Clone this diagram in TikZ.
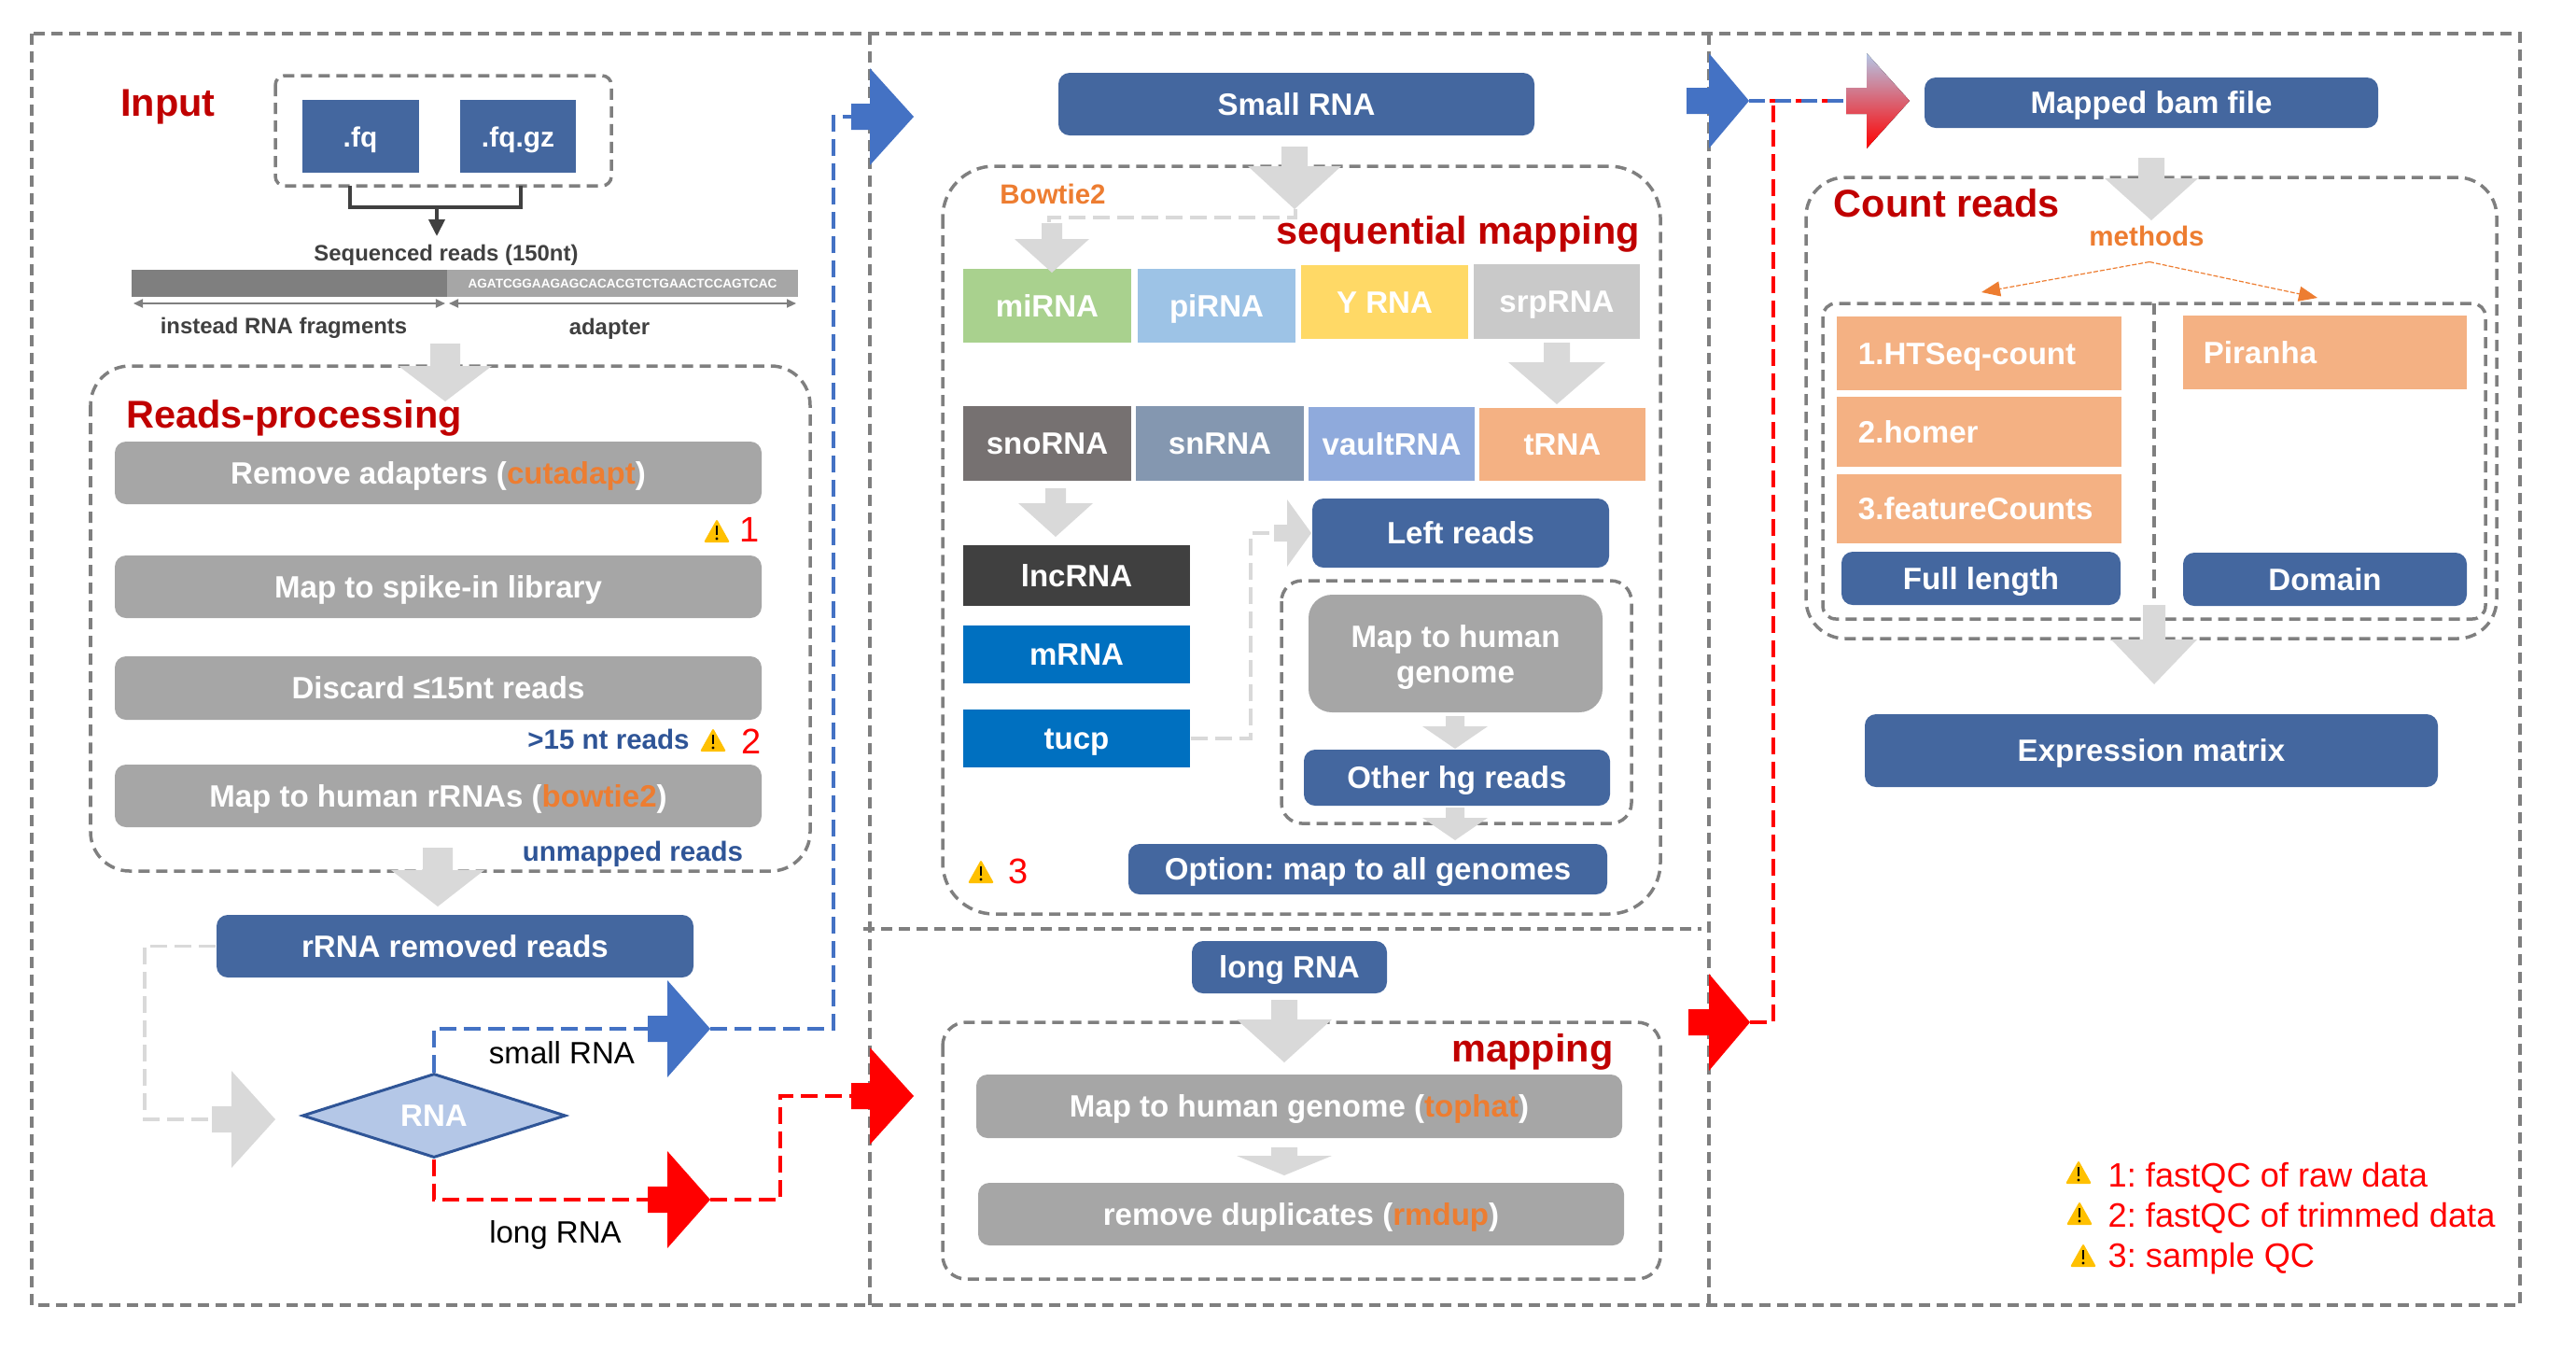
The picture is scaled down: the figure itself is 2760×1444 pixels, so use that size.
\documentclass[tikz,border=0pt]{standalone}
\usepackage{fontspec}
\setmainfont{Liberation Sans}
\usetikzlibrary{arrows.meta,shapes.geometric}

\definecolor{boxblue}{HTML}{44679F}
\definecolor{boxgray}{HTML}{A6A6A6}
\definecolor{fatgray}{HTML}{D9D9D9}
\definecolor{fatblue}{HTML}{4472C4}
\definecolor{linegray}{HTML}{7F7F7F}
\definecolor{headred}{HTML}{C00000}
\definecolor{toolorange}{HTML}{ED7D31}
\definecolor{notenavy}{HTML}{2F5597}
\definecolor{warnyellow}{HTML}{FFC000}
\definecolor{peach}{HTML}{F4B183}
\definecolor{rnafill}{HTML}{B4C7E7}
\definecolor{mirnagreen}{HTML}{A9D18E}
\definecolor{pirnablue}{HTML}{9DC3E6}
\definecolor{yrnayellow}{HTML}{FFD966}
\definecolor{srpgray}{HTML}{C9C9C9}
\definecolor{snogray}{HTML}{767171}
\definecolor{snslate}{HTML}{8497B0}
\definecolor{vaultblue}{HTML}{8FAADC}
\definecolor{tucpblue}{HTML}{0070C0}

\tikzset{
	framedash/.style={line width=0.035cm, color=linegray, dash pattern=on 0.12cm off 0.07cm},
	linkdash/.style={line width=0.035cm, dash pattern=on 0.18cm off 0.08cm},
	size/.style 2 args={minimum width=#1*0.01cm, minimum height=#2*0.01cm, inner sep=0pt},
	bodyfont/.style={font=\fontsize{9.4}{12}\selectfont\bfseries, text height=6.8pt, text depth=0pt},
	headfont/.style={font=\fontsize{11.8}{14}\selectfont\bfseries, color=headred, text height=8.5pt, text depth=0pt},
	notefont/.style={font=\fontsize{8.4}{10}\selectfont\bfseries, text height=6pt, text depth=0pt},
	smallfont/.style={font=\fontsize{6.8}{8}\selectfont\bfseries, color=black!75, text height=4.9pt, text depth=0pt},
	labelfont/.style={font=\fontsize{9.4}{11}\selectfont, text height=6.8pt, text depth=0pt},
	flatbox/.style={fill=#1, text=white, bodyfont},
	bluebox/.style={flatbox=boxblue, rounded corners=0.12cm},
	graybox/.style={flatbox=boxgray, rounded corners=0.12cm},
	warnnum/.style={font=\fontsize{10.8}{12}\selectfont, color=red},
	legend/.style={anchor=west, inner sep=0pt, font=\fontsize{10.3}{12}\selectfont, color=red, text height=7.4pt, text depth=0pt},
}

% x, y top, y neck, y tip, half stem, half head
\def\downblock[#1](#2,#3,#4,#5,#6,#7){\fill[#1] ({#2-#6},#3) -- ({#2+#6},#3) -- ({#2+#6},#4) -- ({#2+#7},#4) -- (#2,#5) -- ({#2-#7},#4) -- ({#2-#6},#4) -- cycle;}
% name, x start, x neck, x tip, y, half stem, half head
\def\rightblock[#1](#2)(#3,#4,#5,#6,#7,#8){
	\coordinate (#2) at (#3,#6);
	\coordinate (#2tip) at (#5,#6);
	\fill[#1] (#3,{#6-#7}) -- (#4,{#6-#7}) -- (#4,{#6-#8}) -- (#5,#6) -- (#4,{#6+#8}) -- (#4,{#6+#7}) -- (#3,{#6+#7}) -- cycle;}
\def\warnicon(#1,#2){
	\fill[warnyellow, rounded corners=0.02cm] ({#1-14},{#2+12}) -- (#1,{#2-13}) -- ({#1+14},{#2+12}) -- cycle;
	\draw[black, line width=0.02cm] (#1,{#2-6}) -- (#1,{#2+4});
	\fill[black] (#1,{#2+8}) circle (1.6);}

\begin{document}
\frenchspacing
\begin{tikzpicture}[x=0.01cm, y=-0.01cm]
			\useasboundingbox (0,0) rectangle (2760,1444);
			
			%%%%% FRAMES %%%%%
			\draw[framedash] (34,36) rectangle (2700,1398);
			\draw[framedash] (932,36) -- (932,1398);
			\draw[framedash] (1831,36) -- (1831,1398);
			\draw[framedash] (925,995) -- (1823,995);
			
			\draw[framedash, rounded corners=0.1cm] (295,81) rectangle (655,199);
			\draw[framedash, rounded corners=0.42cm] (97,392) rectangle (868,933);
			\draw[framedash, rounded corners=0.55cm] (1010,178) rectangle (1779,979);
			\draw[framedash, rounded corners=0.22cm] (1373,622) rectangle (1748,882);
			\draw[framedash, rounded corners=0.25cm] (1010,1095) rectangle (1779,1370);
			\draw[framedash, rounded corners=0.42cm] (1935,190) rectangle (2675,684);
			\draw[framedash, rounded corners=0.14cm] (1953,325) rectangle (2663,663);
			\draw[framedash] (2308,325) -- (2308,663);
			
			%%%%% INPUT %%%%%
			\node[headfont] (input) at (180,110) {Input};
			\node[flatbox=boxblue, size={125}{78}] (fq) at (386,146) {\fontsize{8.5}{10}\selectfont .fq};
			\node[flatbox=boxblue, size={124}{78}] (fqgz) at (555,146) {\fontsize{8.5}{10}\selectfont .fq.gz};
			
			\coordinate (joinmid) at (468,222);
			\coordinate (fqdrop) at (375,199);
			\coordinate (fqgzdrop) at (558,199);
			\draw[line width=0.04cm, color=black!75] (fqdrop) |- (joinmid) -| (fqgzdrop);
			\node[smallfont] (seqreads) at (478,271) {Sequenced reads (150nt)};
			\draw[-{Triangle[length=0.18cm, width=0.17cm]}, line width=0.04cm, color=black!75] (joinmid) -- (468,253);
			
			\node[fill=linegray, size={338}{29}] (readbar) at (310,303.5) {};
			\node[fill=boxgray, text=white, size={376}{29}, font=\fontsize{3.86}{5}\selectfont\bfseries] (adapterbar) at (667,303.5) {AGATCGGAAGAGCACACGTCTGAACTCCAGTCAC};
			\draw[{Triangle[length=0.1cm, width=0.09cm]}-{Triangle[length=0.1cm, width=0.09cm]}, line width=0.02cm, color=linegray] (143,325) -- (477,325);
			\draw[{Triangle[length=0.1cm, width=0.09cm]}-{Triangle[length=0.1cm, width=0.09cm]}, line width=0.02cm, color=linegray] (481,325) -- (853,325);
			\node[smallfont] (fragments) at (304,349) {instead RNA fragments};
			\node[smallfont] (adapter) at (653,350) {adapter};
			
			%%%%% READS-PROCESSING %%%%%
			\downblock[fatgray](477,368,392,430,16,50)
			\node[headfont] (readsproc) at (315,444) {Reads-processing};
			\node[graybox, size={693}{67}] (adapters) at (469.5,506.5) {Remove adapters ({\color{toolorange}cutadapt})};
			\node[graybox, size={693}{67}] (spikein) at (469.5,628.5) {Map to spike-in library};
			\node[graybox, size={693}{68}] (discard) at (469.5,737) {Discard ≤15nt reads};
			\node[graybox, size={693}{67}] (rrnas) at (469.5,852.5) {Map to human rRNAs ({\color{toolorange}bowtie2})};
			
			\warnicon(768,569)
			\node[warnnum] (warnone) at (803,567) {1};
			\node[notefont, color=notenavy] (longreads) at (652,792) {>15 nt reads};
			\warnicon(764,793)
			\node[warnnum] (warntwo) at (805,794) {2};
			\node[notefont, color=notenavy] (unmapped) at (678,912) {unmapped reads};
			
			\downblock[fatgray](469,908,932,971,16,50)
			\node[bluebox, size={511}{67}] (removed) at (487.5,1013.5) {rRNA removed reads};
			
			\rightblock[fatgray](grayin)(227,248,295,1199,14,52)
			\draw[linkdash, color=fatgray] (removed.west) -- (155,1013.5) |- (grayin);
			\node[diamond, draw=notenavy, line width=0.03cm, fill=rnafill, aspect=3.13, inner sep=0pt, minimum width=2.82cm, minimum height=0.9cm, text=white, bodyfont] (rna) at (465,1195) {RNA};
			
			\rightblock[fatblue](smallout)(694,715,761,1102,14,52)
			\rightblock[red](longout)(694,715,761,1285,14,52)
			\draw[linkdash, color=fatblue] (rna.north) |- (smallout);
			\draw[linkdash, color=red] (rna.south) |- (longout);
			\node[labelfont] (smalllabel) at (602,1128) {small RNA};
			\node[labelfont] (longlabel) at (595,1320) {long RNA};
			
			\rightblock[fatblue](smallin)(912,932,979,125,14,52)
			\rightblock[red](longin)(912,932,979,1174,14,52)
			\draw[linkdash, color=fatblue] (smallouttip) -| (893,125) -- (smallin);
			\draw[linkdash, color=red] (longouttip) -| (836,1174) -- (longin);
			
			%%%%% SMALL RNA %%%%%
			\node[bluebox, size={510}{67}] (smallrna) at (1389,111.5) {Small RNA};
			\downblock[fatgray](1387,157,178,224,14,50)
			\node[notefont, color=toolorange] (bowtie) at (1128,208) {Bowtie2};
			\node[headfont] (seqmap) at (1562,247) {sequential mapping};
			
			\node[flatbox=mirnagreen, size={180}{79}] (mirna) at (1122,327.5) {miRNA};
			\node[flatbox=pirnablue, size={169}{79}] (pirna) at (1303.5,327.5) {piRNA};
			\node[flatbox=yrnayellow, size={179}{79}] (yrna) at (1483.5,323.5) {Y RNA};
			\node[flatbox=srpgray, size={178}{80}] (srprna) at (1668,323) {srpRNA};
			
			\coordinate (bowtieturn) at (1388,233);
			\draw[linkdash, color=fatgray] (1388,224) -- (bowtieturn) -| (1124,239);
			\downblock[fatgray](1127,239,256,292,11,40)
			\downblock[fatgray](1668,367,388,433,14,52)
			
			\node[flatbox=snogray, size={180}{80}] (snorna) at (1122,475) {snoRNA};
			\node[flatbox=snslate, size={180}{80}] (snrna) at (1307,475) {snRNA};
			\node[flatbox=vaultblue, size={178}{79}] (vaultrna) at (1491,475.5) {vaultRNA};
			\node[flatbox=peach, size={178}{78}] (trna) at (1674,476) {tRNA};
			
			\downblock[fatgray](1131,523,539,575,11,40)
			\node[flatbox=black!75, size={243}{65}] (lncrna) at (1153.5,616.5) {lncRNA};
			\node[flatbox=tucpblue, size={243}{62}] (mrna) at (1153.5,701) {mRNA};
			\node[flatbox=tucpblue, size={243}{62}] (tucp) at (1153.5,791) {tucp};
			
			\node[bluebox, size={318}{74}] (leftreads) at (1565,571) {Left reads};
			\rightblock[fatgray](leftin)(1365,1379,1405,571,9,36)
			\draw[linkdash, color=fatgray] (tucp.east) -- (1340,791) |- (leftin);
			
			\node[graybox, size={315}{126}, rounded corners=0.25cm] (humangenome) at (1559.5,700) {};
			\node[bodyfont, text=white, align=center, text height=, text depth=] (humangenometext) at (1559.5,704) {Map to human\\[-1pt]genome};
			\downblock[fatgray](1559,767,778,802,10,35)
			\node[bluebox, size={328}{60}] (otherhg) at (1561,833) {Other hg reads};
			\downblock[fatgray](1559,865,876,900,10,35)
			\node[bluebox, size={513}{54}] (allgenomes) at (1465.5,931) {Option: map to all genomes};
			\warnicon(1051,934)
			\node[warnnum] (warnthree) at (1091,933) {3};
			
			%%%%% LONG RNA %%%%%
			\node[bluebox, size={209}{56}] (longrna) at (1381.5,1036) {long RNA};
			\downblock[fatgray](1376,1071,1092,1138,14,51)
			\node[headfont] (maplabel) at (1642,1123) {mapping};
			\node[graybox, size={692}{68}] (tophat) at (1392,1185) {Map to human genome ({\color{toolorange}tophat})};
			\downblock[fatgray](1376,1229,1238,1259,14,51)
			\node[graybox, size={692}{67}] (rmdup) at (1394,1300.5) {remove duplicates ({\color{toolorange}rmdup})};
			
			%%%%% COUNT READS %%%%%
			\rightblock[fatblue](blueout)(1807,1831,1874,108,14,51)
			\rightblock[red](redout)(1809,1831,1875,1095,14,52)
			\rightblock[top color=rnafill, bottom color=red](mixedin)(1978,2000,2046,108,14,51)
			\draw[linkdash, color=red] (redouttip) -- (1900,1095) -- (1900,108);
			\draw[line width=0.035cm, color=red, dash pattern=on 0.23cm off 0.05cm, dash phase=0.06cm] (blueouttip) -- (mixedin);
			\draw[line width=0.035cm, color=fatblue, dash pattern=on 0.17cm off 0.11cm] (blueouttip) -- (mixedin);
			
			\node[bluebox, size={486}{54}] (bamfile) at (2305,110) {Mapped bam file};
			\downblock[fatgray](2305,169,191,236,14,50)
			\node[headfont] (countreads) at (2086,218) {Count reads};
			\node[notefont, color=toolorange] (methods) at (2300,253) {methods};
			
			\coordinate (methodfork) at (2303,280.5);
			\draw[-{Triangle[length=0.2cm, width=0.16cm]}, line width=0.012cm, color=toolorange, dash pattern=on 0.05cm off 0.02cm] (methodfork) -- (2123,313);
			\draw[-{Triangle[length=0.2cm, width=0.16cm]}, line width=0.012cm, color=toolorange, dash pattern=on 0.05cm off 0.02cm] (methodfork) -- (2483,319);
			
			\node[flatbox=peach, size={305}{79}, text width=2.59cm, align=left] (htseq) at (2120.5,378.5) {1.HTSeq-count};
			\node[flatbox=peach, size={305}{75}, text width=2.59cm, align=left] (homer) at (2120.5,462.5) {2.homer};
			\node[flatbox=peach, size={305}{74}, text width=2.59cm, align=left] (featurecounts) at (2120.5,545) {3.featureCounts};
			\node[flatbox=peach, size={304}{79}, text width=2.60cm, align=left] (piranha) at (2491,377.5) {Piranha};
			\node[bluebox, size={299}{57}] (fulllength) at (2122.5,619.5) {Full length};
			\node[bluebox, size={304}{57}] (domain) at (2491,620.5) {Domain};
			
			\downblock[fatgray](2308,648,685,733,12,46)
			\node[bluebox, size={614}{78}] (matrix) at (2305,804) {Expression matrix};
			
			%%%%% LEGEND %%%%%
			\warnicon(2227,1256)
			\node[legend] (legendone) at (2258,1258) {1: fastQC of raw data};
			\warnicon(2228,1300)
			\node[legend] (legendtwo) at (2258,1301) {2: fastQC of trimmed data};
			\warnicon(2232,1345)
			\node[legend] (legendthree) at (2258,1344) {3: sample QC};
			
		\end{tikzpicture}
\end{document}
